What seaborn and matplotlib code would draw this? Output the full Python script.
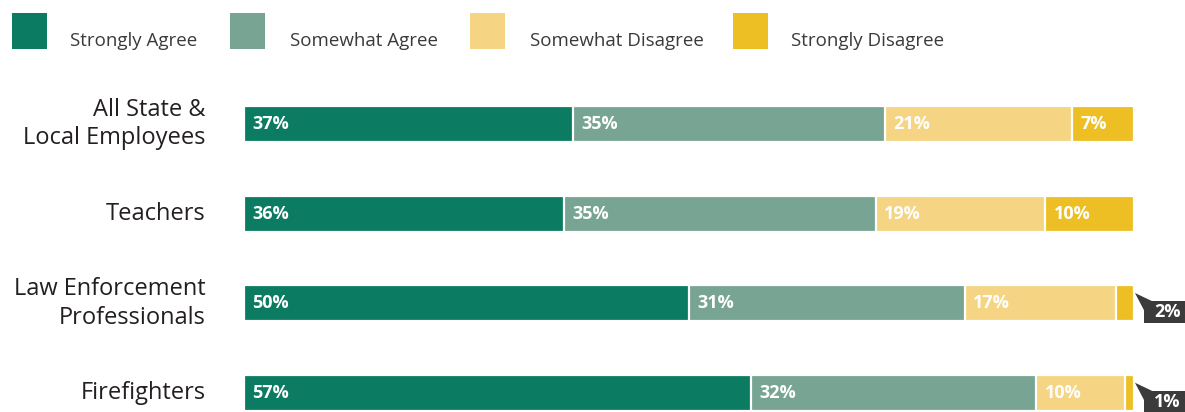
import matplotlib
matplotlib.use("Agg")
import matplotlib.pyplot as plt
from matplotlib.patches import Rectangle, Polygon
import numpy as np
import pandas as pd
import seaborn as sns

groups = ["All State &\nLocal Employees", "Teachers", "Law Enforcement\nProfessionals", "Firefighters"]
responses = ["Strongly Agree", "Somewhat Agree", "Somewhat Disagree", "Strongly Disagree"]
strongly_agree = [37, 36, 50, 57]
somewhat_agree = [35, 35, 31, 32]
somewhat_disagree = [21, 19, 17, 10]
strongly_disagree = [7, 10, 2, 1]
colors = ["#0b7b62", "#78a593", "#f5d584", "#edbf25"]

sns.set_theme(style="white")
plt.rcParams["font.family"] = ["Open Sans", "DejaVu Sans"]

values = np.array([strongly_agree, somewhat_agree, somewhat_disagree, strongly_disagree], dtype=float)
cum = values.cumsum(axis=0)
left = cum - values

fig = plt.figure(figsize=(11.85, 4.12), dpi=100)
W, H = 1185, 412
ax = fig.add_axes([244 / W, 0, 890 / W, 332 / H])

# stacked bars: draw cumulative totals from the longest to the shortest
for i in range(len(responses) - 1, -1, -1):
    df = pd.DataFrame({"group": groups, "total": cum[i]})
    sns.barplot(data=df, x="total", y="group", order=groups, orient="h",
                color=colors[i], saturation=1, width=0.40,
                edgecolor="white", linewidth=1.6, ax=ax)

ax.set_xlim(0, 100)
ax.set_ylim(3.21, -0.49)
ax.set_xlabel("")
ax.set_ylabel("")
ax.set_xticks([])
ax.set_yticks([])
for s in ax.spines.values():
    s.set_visible(False)

# group labels on the left
for j, g in enumerate(groups):
    ax.text(-4.3, j, g, ha="right", va="center", fontsize=17,
            color="#231f20", linespacing=1.25)

# value labels
callout = "#3b3b3b"
for i in range(len(responses)):
    for j in range(len(groups)):
        v = values[i, j]
        if v >= 5:
            ax.text(left[i, j] + 0.95, j, f"{int(v)}%", ha="left", va="center",
                    fontsize=13, fontweight="bold", color="white")
        else:
            # small segments get a tagged callout to the right
            box = Rectangle((101.12, j - 0.027), 6.5, 0.245, fc=callout, ec="none",
                            clip_on=False, zorder=5)
            ax.add_patch(box)
            tri = Polygon([(100.11, j - 0.116), (102.0, j - 0.027), (101.12, j + 0.075)],
                          closed=True, fc=callout, ec="none", clip_on=False, zorder=5)
            ax.add_patch(tri)
            ax.text(103.75, j + 0.097, f"{int(v)}%", ha="center", va="center",
                    fontsize=13, fontweight="bold", color="white",
                    clip_on=False, zorder=6)

# legend along the top
patch_x = [12, 230, 470, 733]
text_x = [70, 290, 530, 791]
for k, r in enumerate(responses):
    fig.patches.append(Rectangle((patch_x[k] / W, 1 - 49 / H), 35 / W, 36 / H,
                                 transform=fig.transFigure, fc=colors[k], ec="none"))
    fig.text(text_x[k] / W, 1 - 41 / H, r, ha="left", va="center",
             fontsize=13.5, color="#3a3a3a")

fig.savefig("out.png", dpi=100)
